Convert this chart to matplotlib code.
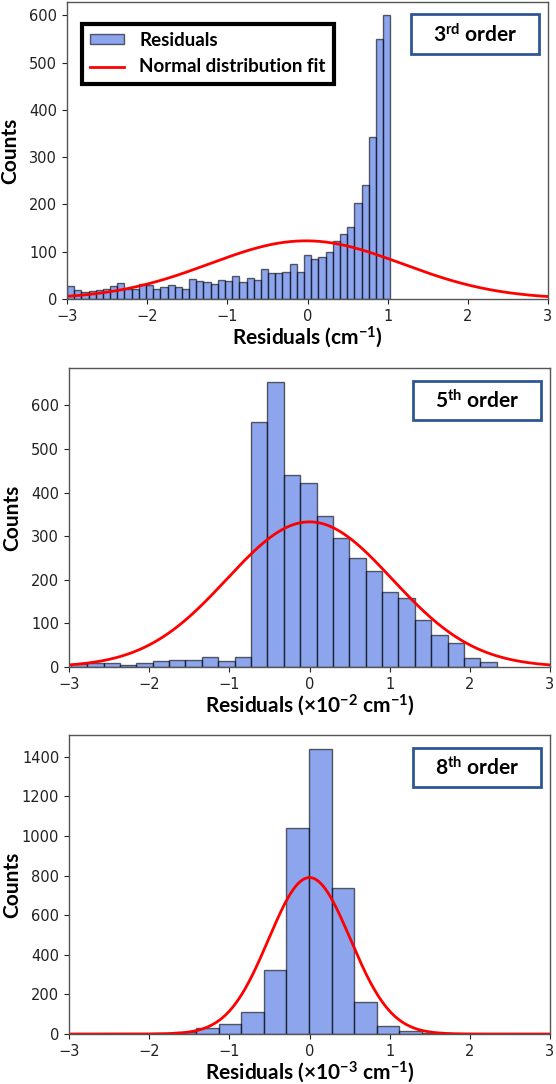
import numpy as np
import matplotlib
matplotlib.use("Agg")
import matplotlib.pyplot as plt
from matplotlib.patches import Rectangle

plt.rcParams['font.family'] = ['DejaVu Sans']
plt.rcParams['mathtext.fontset'] = 'custom'
plt.rcParams['mathtext.rm'] = 'Lato:bold'
plt.rcParams['mathtext.it'] = 'Lato:bold:italic'
plt.rcParams['mathtext.bf'] = 'Lato:bold'

LABEL_FONT = ['Lato', 'DejaVu Sans']

# histogram counts (bin start, bin width, counts)
start3, width3 = -3.0, 0.0896
counts3 = [27, 20, 14, 17, 20, 22, 28, 34, 21, 22, 32, 29, 22, 25, 30, 26, 22,
           43, 39, 36, 32, 40, 38, 49, 35, 45, 41, 64, 55, 54, 57, 75, 57, 92,
           85, 89, 99, 122, 137, 152, 203, 240, 342, 550, 600]

start5, width5 = -2.978, 0.2044
counts5 = [6, 9, 10, 5, 10, 13, 15, 15, 24, 13, 24, 562, 653, 440, 423, 347,
           295, 249, 220, 171, 158, 107, 74, 55, 21, 11]

start8, width8 = -1.978, 0.2818
counts8 = [4, 9, 30, 50, 109, 325, 1039, 1438, 739, 163, 40, 13, 7]

# normal fit parameters (mean, sigma, peak height)
fit3 = (-0.02, 1.2, 123)
fit5 = (0.0, 1.03, 333)
fit8 = (0.0, 0.51, 790)

order_labels = ['3$^{\\mathrm{rd}}$ order', '5$^{\\mathrm{th}}$ order',
                '8$^{\\mathrm{th}}$ order']
xlabels = ['Residuals (cm$^{\\mathrm{-1}}$)',
           'Residuals (\u00d710$^{\\mathrm{-2}}$ cm$^{\\mathrm{-1}}$)',
           'Residuals (\u00d710$^{\\mathrm{-3}}$ cm$^{\\mathrm{-1}}$)']
ylims = [628, 686, 1510]
yticks = [range(0, 601, 100), range(0, 601, 100), range(0, 1401, 200)]


def draw_panel(ax, start, width, counts, fit, ylim, ticks, order, xlabel):
    counts = np.array(counts, dtype=float)
    edges = start + width * np.arange(len(counts) + 1)
    centers = (edges[:-1] + edges[1:]) / 2
    ax.hist(centers, bins=edges, weights=counts, color='royalblue',
            alpha=0.6, edgecolor='black', linewidth=1.0, label='Residuals')
    x = np.linspace(-3, 3, 400)
    mu, sigma, peak = fit
    ax.plot(x, peak * np.exp(-(x - mu) ** 2 / (2 * sigma ** 2)), color='red',
            lw=2, label='Normal distribution fit')
    ax.set_xlim(-3, 3)
    ax.set_ylim(0, ylim)
    ax.set_yticks(list(ticks))
    ax.tick_params(labelsize=10.5, colors='#222222')
    for sp in ax.spines.values():
        sp.set_color('#555555')
        sp.set_linewidth(1.0)
    ax.set_xlabel(xlabel, fontsize=15, fontweight='bold', family=LABEL_FONT,
                  labelpad=0)
    ax.set_ylabel('Counts', fontsize=15, fontweight='bold', family=LABEL_FONT)
    ax.yaxis.set_label_coords(-0.098, 0.5)
    ax.add_patch(Rectangle((0.716, 0.826), 0.266, 0.132,
                           transform=ax.transAxes, facecolor='white',
                           edgecolor='#2F5597', lw=2, zorder=5))
    ax.text(0.849, 0.892, order, transform=ax.transAxes, ha='center',
            va='center', fontsize=15, fontweight='bold', family=LABEL_FONT,
            zorder=6)


fig = plt.figure(figsize=(5.56, 10.84), dpi=100)
ax1 = fig.add_axes([67 / 556, 785 / 1084, 481 / 556, 297 / 1084])
ax2 = fig.add_axes([69 / 556, 417 / 1084, 481 / 556, 299 / 1084])
ax3 = fig.add_axes([69 / 556, 50 / 1084, 481 / 556, 299 / 1084])

draw_panel(ax1, start3, width3, counts3, fit3, ylims[0], yticks[0],
           order_labels[0], xlabels[0])
draw_panel(ax2, start5, width5, counts5, fit5, ylims[1], yticks[1],
           order_labels[1], xlabels[1])
draw_panel(ax3, start8, width8, counts8, fit8, ylims[2], yticks[2],
           order_labels[2], xlabels[2])

leg = ax1.legend(loc='upper left', bbox_to_anchor=(0.031, 0.927),
                 borderaxespad=0, fancybox=False, framealpha=1,
                 handlelength=1.8, handleheight=0.45, labelspacing=0.5,
                 borderpad=0.45,
                 prop={'family': LABEL_FONT, 'weight': 'bold', 'size': 13.5})
leg.get_frame().set_edgecolor('black')
leg.get_frame().set_linewidth(3)

fig.savefig('out.png', dpi=100)
